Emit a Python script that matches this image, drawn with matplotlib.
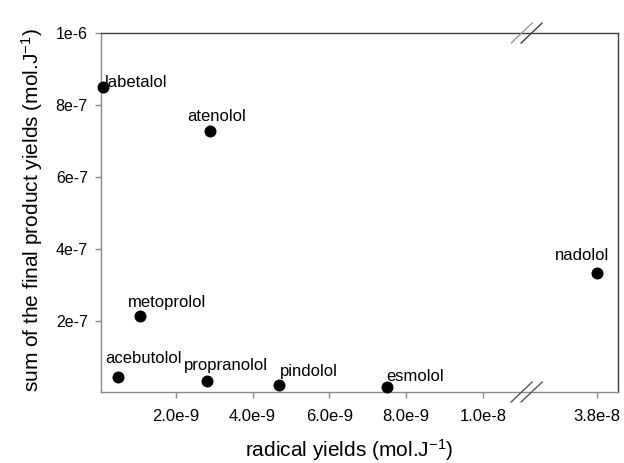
import numpy as np
import matplotlib
matplotlib.use("Agg")
import matplotlib.pyplot as plt

plt.rcParams['font.family'] = ['Liberation Sans', 'DejaVu Sans']
plt.rcParams['mathtext.fontset'] = 'custom'
plt.rcParams['mathtext.rm'] = 'Liberation Sans'
plt.rcParams['mathtext.it'] = 'Liberation Sans:italic'

# data
names = ['labetalol', 'atenolol', 'metoprolol', 'acebutolol',
         'propranolol', 'pindolol', 'esmolol', 'nadolol']
radical_yield = [0.11e-9, 2.89e-9, 1.06e-9, 0.49e-9,
                 2.81e-9, 4.70e-9, 7.49e-9, 3.80e-8]
product_yield = [8.51e-7, 7.29e-7, 2.14e-7, 4.5e-8,
                 3.4e-8, 2.2e-8, 1.6e-8, 3.32e-7]

# label offsets in pixels (left edge / baseline relative to the point)
label_offsets = [(2, 0), (-23, 10), (-12, 9), (-13, 14),
                 (-23, 11), (0, 9), (0, 6), (-42, 13)]

x_ticks = [2e-9, 4e-9, 6e-9, 8e-9, 1e-8, 3.8e-8]
x_tick_labels = ['2.0e-9', '4.0e-9', '6.0e-9', '8.0e-9', '1.0e-8', '3.8e-8']
y_ticks = [2e-7, 4e-7, 6e-7, 8e-7, 1e-6]
y_tick_labels = ['2e-7', '4e-7', '6e-7', '8e-7', '1e-6']

# broken x axis: everything above BREAK_LO is shifted down to sit next to it
BREAK_LO = 1.114e-8
BREAK_HI = 3.616e-8
GAP = BREAK_HI - BREAK_LO


def fwd(x):
    x = np.asarray(x, dtype=float)
    return np.where(x > BREAK_LO, x - GAP, x)


def inv(u):
    u = np.asarray(u, dtype=float)
    return np.where(u > BREAK_LO, u + GAP, u)


fig = plt.figure(figsize=(6.24, 4.63), dpi=100)
ax = fig.add_axes([101 / 624, 71 / 463, 517 / 624, 359 / 463])
ax.set_xscale('function', functions=(fwd, inv))

ax.scatter(radical_yield, product_yield, s=58, color='black', zorder=3, clip_on=False)
for name, x, y, off in zip(names, radical_yield, product_yield, label_offsets):
    ax.annotate(name, (x, y), xytext=off, textcoords='offset pixels',
                ha='left', va='baseline', fontsize=12)

ax.set_xlim(0.05e-9, 3.854e-8)
ax.set_ylim(0.28e-8, 1e-6)

ax.set_xticks(x_ticks)
ax.set_xticklabels(x_tick_labels)
ax.set_yticks(y_ticks)
ax.set_yticklabels(y_tick_labels)
ax.minorticks_off()

grey = '#8a8a8a'
dark = '#3c3c3c'
ax.spines['left'].set_color(grey)
ax.spines['bottom'].set_color(grey)
ax.spines['top'].set_color(dark)
ax.spines['right'].set_color(dark)
for s in ax.spines.values():
    s.set_linewidth(1.0)
ax.tick_params(axis='x', direction='out', length=4, width=1, color=grey,
               labelsize=12, pad=8)
ax.tick_params(axis='y', direction='out', length=4.5, width=1, color=grey,
               labelsize=11.5, pad=5)

# break marks on top and bottom spines
bx = ax.transAxes.inverted().transform(ax.transData.transform((BREAK_LO, 1e-7)))[0]
dx_sep = 5 / 517
hw = 10.5 / 517
hh = 10 / 359
for yb, c1, c2 in [(1.0, '#9a9a9a', dark), (0.0, '#555555', '#555555')]:
    for cx, col in [(bx - dx_sep, c1), (bx + dx_sep, c2)]:
        ax.plot([cx - hw, cx + hw], [yb - hh, yb + hh], transform=ax.transAxes,
                color=col, lw=1.0, clip_on=False, zorder=4)

fig.text(349 / 624, 6 / 463, r'radical yields (mol.J$^{-1}$)', ha='center',
         va='baseline', fontsize=15)
fig.text(32 / 624, 253 / 463, r'sum of the final product yields (mol.J$^{-1}$)',
         ha='center', va='center', rotation=90, fontsize=15)

fig.savefig('out.png', dpi=100)
